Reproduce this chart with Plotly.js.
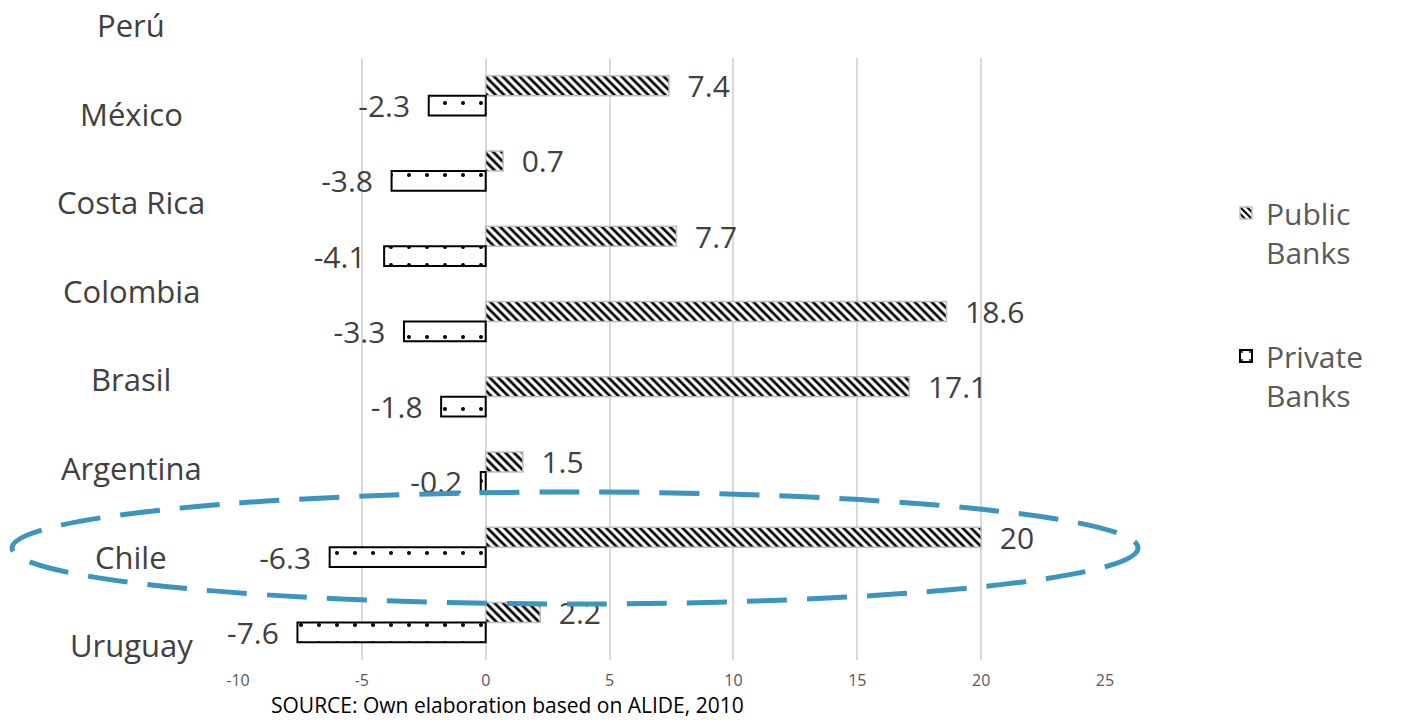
<!DOCTYPE html>
<html>
<head>
<meta charset="utf-8">
<script src="https://cdn.plot.ly/plotly-3.0.1.min.js"></script>
<style>html,body{margin:0;padding:0;background:#fff;}#chart{width:1401px;height:720px;}</style>
</head>
<body>
<div id="chart"></div>
<script>
const categories = ["Perú", "México", "Costa Rica", "Colombia", "Brasil", "Argentina", "Chile", "Uruguay"];
const publicBanks = [7.4, 0.7, 7.7, 18.6, 17.1, 1.5, 20, 2.2];
const privateBanks = [-2.3, -3.8, -4.1, -3.3, -1.8, -0.2, -6.3, -7.6];
const seriesNames = ["Public<br>Banks", "Private<br>Banks"];
const tickValues = [-10, -5, 0, 5, 10, 15, 20, 25];
const tickLabels = ["-10", "-5", "0", "5", "10", "15", "20", "25"];
const sourceText = "SOURCE: Own elaboration based on ALIDE, 2010";

const FONT = "Open Sans, sans-serif";
const NB = "\u00a0\u00a0";

const plotTop = 58, plotBottom = 660, plotLeft = 238, plotRight = 1105;
const plotH = plotBottom - plotTop, plotW = plotRight - plotLeft;
const pyToPaper = p => (plotBottom - p) / plotH;
const pxToPaper = p => (p - plotLeft) / plotW;

const traces = [
  {
    type: "bar", orientation: "h", name: seriesNames[0], legendgroup: "pub",
    y: categories, x: publicBanks,
    text: publicBanks.map(v => NB + String(v)),
    textposition: "outside", constraintext: "none", cliponaxis: false,
    textfont: {family: FONT, size: 30, color: "#404040"},
    marker: {color: "white", line: {color: "#bfbfbf", width: 1.5},
             pattern: {shape: "\\", fgcolor: "black", bgcolor: "white", size: 6, solidity: 0.45}},
    hoverinfo: "x+y"
  },
  {
    type: "bar", orientation: "h", name: seriesNames[1], legendgroup: "priv",
    y: categories, x: privateBanks,
    text: privateBanks.map(v => String(v) + NB),
    textposition: "outside", constraintext: "none", cliponaxis: false,
    textfont: {family: FONT, size: 30, color: "#404040"},
    marker: {color: "white", line: {color: "black", width: 2},
             pattern: {shape: ".", fgcolor: "black", bgcolor: "white", size: 18, solidity: 0.04}},
    hoverinfo: "x+y"
  }
];

// category labels laid out at their own spacing, as in the reference
const labelTop = 25, labelStep = 88.6;
const annotations = categories.map((c, i) => ({
  text: c, xref: "paper", yref: "paper",
  x: pxToPaper(131), y: pyToPaper(labelTop + i * labelStep),
  xanchor: "center", yanchor: "middle", showarrow: false,
  font: {family: FONT, size: 31, color: "#404040"}
}));
annotations.push({
  text: sourceText, xref: "paper", yref: "paper",
  x: pxToPaper(270), y: pyToPaper(705), xanchor: "left", yanchor: "middle",
  showarrow: false, borderpad: 0, font: {family: FONT, size: 21, color: "#000000"}
});

const layout = {
  width: 1401, height: 720,
  margin: {l: plotLeft, r: 1401 - plotRight, t: plotTop, b: 720 - plotBottom, pad: 0},
  paper_bgcolor: "white", plot_bgcolor: "white",
  barmode: "group", bargap: 0.47, bargroupgap: 0,
  font: {family: FONT, color: "#404040"},
  xaxis: {
    range: [-10, 25], tickvals: tickValues, ticktext: tickLabels,
    showgrid: true, gridcolor: "#d9d9d9", gridwidth: 2,
    zeroline: false, showline: false, ticks: "",
    tickfont: {family: FONT, size: 16, color: "#595959"},
    ticklabelstandoff: 9, fixedrange: true
  },
  yaxis: {
    type: "category", categoryorder: "array", categoryarray: categories,
    autorange: "reversed", showticklabels: false, showgrid: false,
    zeroline: false, showline: false, ticks: "", fixedrange: true
  },
  legend: {
    x: pxToPaper(1226), y: pyToPaper(187), xanchor: "left", yanchor: "top",
    font: {family: FONT, size: 30, color: "#595959"},
    valign: "top", traceorder: "grouped", tracegroupgap: 62, bgcolor: "rgba(0,0,0,0)",
    itemwidth: 30
  },
  showlegend: true,
  annotations: annotations,
  shapes: [{
    type: "circle", xref: "paper", yref: "paper", layer: "above",
    x0: pxToPaper(12), x1: pxToPaper(1138),
    y0: pyToPaper(604), y1: pyToPaper(492),
    line: {color: "#3b95be", width: 5, dash: "40px,20px"},
    fillcolor: "rgba(0,0,0,0)"
  }]
};

Plotly.newPlot("chart", traces, layout, {displayModeBar: false, staticPlot: true});
</script>
</body>
</html>
